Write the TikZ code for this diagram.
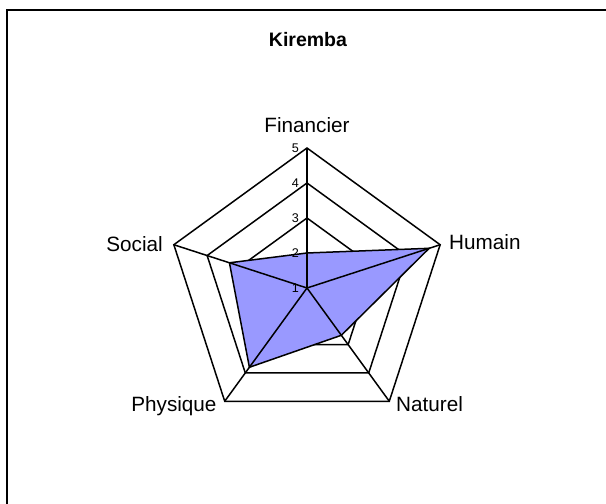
\documentclass[tikz,border=0pt]{standalone}
\usepackage{fontspec}
\setmainfont{Liberation Sans}
\usetikzlibrary{positioning}
\definecolor{serieblue}{HTML}{9999FF}
\tikzstyle{axislabel} = [font=\fontsize{20.7}{24}\selectfont, inner sep=0pt]
\tikzstyle{ticklabel} = [font=\fontsize{12.6}{14}\selectfont, anchor=east, inner sep=0pt]
\tikzstyle{titre} = [font=\bfseries\fontsize{19.5}{23}\selectfont, inner sep=0pt]
\tikzstyle{grille} = [line width=1.5pt, line join=miter]
\tikzstyle{serie} = [fill=serieblue, draw=black, line width=1.5pt, line join=miter]
\tikzstyle{cadre} = [line width=2pt]

\begin{document}
\begin{tikzpicture}[x=1pt, y=1pt]
  \useasboundingbox (0,0) rectangle (606,504);
  \clip (0,0) rectangle (606,504);

  % cadre
  \draw[cadre] (7,494) rectangle (630,-30);
  \node[titre, anchor=base] (titre) at (308,457.3) {Kiremba};

  % centre et sommets de la grille
  \coordinate (O) at (307,216);
  \foreach \n/\a in {F/90,H/18,N/-54,P/-126,S/162}
    \foreach \k in {1,...,4}
      \path (O) ++(\a:{35*\k}) coordinate (\n\k);

  % anneaux
  \foreach \k in {1,...,4}
    \draw[grille] (F\k) -- (H\k) -- (N\k) -- (P\k) -- (S\k) -- cycle;

  % serie
  \path (O) ++(90:35) coordinate (vF);
  \path (O) ++(18:{35*3.67}) coordinate (vH);
  \path (O) ++(-54:{35*1.67}) coordinate (vN);
  \path (O) ++(-126:{35*2.8}) coordinate (vP);
  \path (O) ++(162:{35*2.33}) coordinate (vS);
  \draw[serie] (vF) -- (vH) -- (vN) -- (vP) -- (vS) -- cycle;

  % axes
  \foreach \n in {F,H,N,P,S}
    \draw[grille] (O) -- (\n4);

  % graduations
  \foreach \v in {1,...,5}
    \node[ticklabel] (t\v) at (299,{216+35*(\v-1)}) {\v};

  % etiquettes
  \node[axislabel, anchor=base] (lF) at (307,371.7) {Financier};
  \node[axislabel, anchor=base west] (lH) at (449,254) {Humain};
  \node[axislabel, anchor=base west] (lN) at (396,92.3) {Naturel};
  \node[axislabel, anchor=base east] (lP) at (216.7,92.3) {Physique};
  \node[axislabel, anchor=base east] (lS) at (163,252) {Social};
\end{tikzpicture}
\end{document}
